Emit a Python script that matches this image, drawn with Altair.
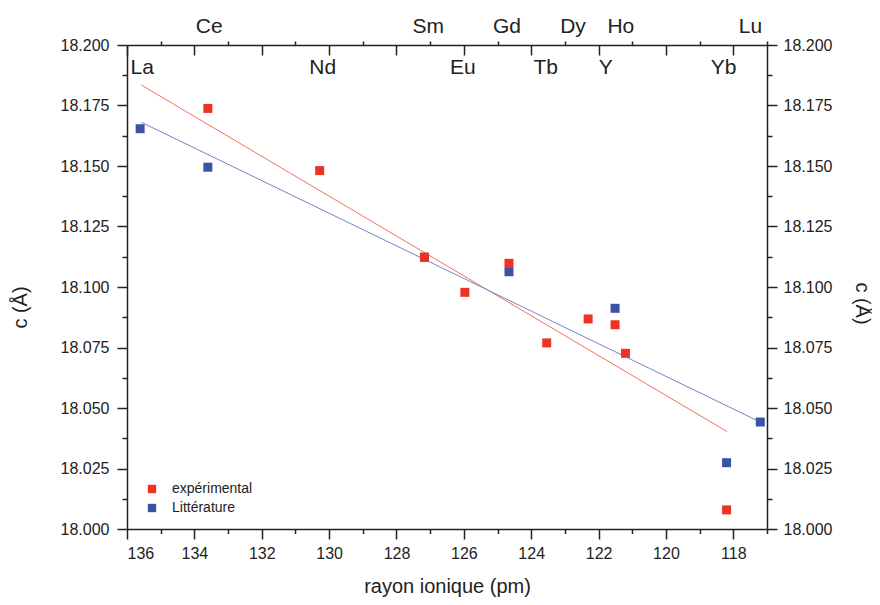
import altair as alt
import pandas as pd

# ---- data ----
exp_x = [133.60, 130.28, 127.17, 125.97, 124.66, 123.54, 122.31, 121.51, 121.20, 118.20]
exp_y = [18.1738, 18.1481, 18.1123, 18.0978, 18.1098, 18.0769, 18.0868, 18.0844, 18.0726, 18.0079]
lit_x = [135.61, 133.60, 127.17, 124.66, 121.51, 118.20, 117.20]
lit_y = [18.1654, 18.1495, 18.1123, 18.1063, 18.0912, 18.0274, 18.0442]

fit_exp_x = [135.58, 118.18]
fit_exp_y = [18.1835, 18.0402]
fit_lit_x = [135.58, 117.20]
fit_lit_y = [18.1681, 18.0442]

upper_labels = ["Ce", "Sm", "Gd", "Dy", "Ho", "Lu"]
upper_x = [133.56, 127.06, 124.72, 122.76, 121.34, 117.49]
lower_labels = ["La", "Nd", "Eu", "Tb", "Y", "Yb"]
lower_x = [135.55, 130.19, 126.03, 123.57, 121.79, 118.29]

x_major = [136, 134, 132, 130, 128, 126, 124, 122, 120, 118]
x_minor = [135, 133, 131, 129, 127, 125, 123, 121, 119, 117]
y_major = [18.000, 18.025, 18.050, 18.075, 18.100, 18.125, 18.150, 18.175, 18.200]
y_minor = [18.0125, 18.0375, 18.0625, 18.0875, 18.1125, 18.1375, 18.1625, 18.1875]

series_names = ["expérimental", "Littérature"]
series_colors = ["#EC3324", "#3A53A4"]
line_colors = ["#F2705F", "#7486C4"]

FONT = "Liberation Sans"
INK = "#222222"

pts = pd.concat([
    pd.DataFrame({"r": lit_x, "c": lit_y, "s": series_names[1]}),
    pd.DataFrame({"r": exp_x, "c": exp_y, "s": series_names[0]}),
], ignore_index=True)

fits = pd.concat([
    pd.DataFrame({"r": fit_exp_x, "c": fit_exp_y, "s": series_names[0]}),
    pd.DataFrame({"r": fit_lit_x, "c": fit_lit_y, "s": series_names[1]}),
], ignore_index=True)

up_df = pd.DataFrame({"r": upper_x, "t": upper_labels})
lo_df = pd.DataFrame({"r": lower_x, "t": lower_labels})

xscale = alt.Scale(domain=[136, 117], nice=False, zero=False)
yscale = alt.Scale(domain=[18.0, 18.2], nice=False, zero=False)


def ax(**kw):
    base = dict(grid=False, labelFont=FONT, titleFont=FONT, domainColor=INK,
                tickColor=INK, labelColor=INK, titleColor=INK, domainWidth=1.5,
                tickWidth=1.5, labelFontSize=16, titleFontSize=20,
                titleFontWeight="normal")
    base.update(kw)
    return alt.Axis(**base)


color = alt.Color("s:N", scale=alt.Scale(domain=series_names, range=series_colors),
                  legend=alt.Legend(orient="none", legendX=18, legendY=437, title=None,
                                    symbolType="square", symbolSize=70,
                                    symbolStrokeWidth=0, labelFont=FONT,
                                    labelFontSize=14, labelColor=INK,
                                    labelOffset=13, rowPadding=5, padding=0))

# fit lines + bottom/left minor axes
lines = alt.Chart(fits).mark_line(strokeWidth=1).encode(
    x=alt.X("r:Q", scale=xscale,
            axis=ax(orient="bottom", values=x_minor, tickSize=4.5, labels=False,
                    domain=False, title=None)),
    y=alt.Y("c:Q", scale=yscale,
            axis=ax(orient="left", values=y_minor, tickSize=5, labels=False,
                    domain=False, title=None)),
    color=alt.Color("s:N", scale=alt.Scale(domain=series_names, range=line_colors),
                    legend=None),
    detail="s:N",
)

# points + bottom/left major axes
points = alt.Chart(pts).mark_point(shape="square", filled=True, size=81, opacity=1).encode(
    x=alt.X("r:Q", scale=xscale,
            axis=ax(orient="bottom", values=x_major, tickSize=10, labelPadding=6,
                    format="d", title="rayon ionique (pm)", titleY=63,
                    titleBaseline="alphabetic")),
    y=alt.Y("c:Q", scale=yscale,
            axis=ax(orient="left", values=y_major, tickSize=10, labelPadding=8,
                    format=".3f", title="c (Å)", titleAngle=270, titleX=-107,
                    titleY=262, titleBaseline="middle", titleAlign="center")),
    color=color,
)

# top minor axis (with frame line) + right major axis
frame_a = alt.Chart(pts).mark_point(opacity=0).encode(
    x=alt.X("r:Q", scale=xscale,
            axis=ax(orient="top", values=x_minor, tickSize=4, labels=False,
                    domain=True, title=None)),
    y=alt.Y("c:Q", scale=yscale,
            axis=ax(orient="right", values=y_major, tickSize=10, labelPadding=6,
                    format=".3f", title="c (Å)", titleAngle=90, titleX=94,
                    titleY=258, titleBaseline="middle", titleAlign="center")),
)

# top major inward ticks + right minor ticks
frame_b = alt.Chart(pts).mark_point(opacity=0).encode(
    x=alt.X("r:Q", scale=xscale,
            axis=ax(orient="top", values=x_major, tickSize=10, labels=False,
                    domain=False, offset=-10, title=None)),
    y=alt.Y("c:Q", scale=yscale,
            axis=ax(orient="right", values=y_minor, tickSize=5, labels=False,
                    domain=False, title=None)),
)

upper = alt.Chart(up_df).mark_text(font=FONT, fontSize=21, align="center",
                                   baseline="alphabetic", color=INK).encode(
    x=alt.X("r:Q", scale=xscale, axis=None),
    y=alt.value(-12),
    text="t:N",
)

lower = alt.Chart(lo_df).mark_text(font=FONT, fontSize=21, align="center",
                                   baseline="alphabetic", color=INK).encode(
    x=alt.X("r:Q", scale=xscale, axis=None),
    y=alt.value(28.5),
    text="t:N",
)

chart = alt.layer(lines, points, frame_a, frame_b, upper, lower).resolve_axis(
    x="independent", y="independent"
).resolve_scale(color="independent").properties(
    width=640, height=484,
    padding={"left": 119, "top": 37, "right": 105, "bottom": 68},
    autosize=alt.AutoSizeParams(type="none"),
).configure_view(stroke=None).configure(background="white")

chart.save("out.html", embed_options={"renderer": "svg", "actions": False})
